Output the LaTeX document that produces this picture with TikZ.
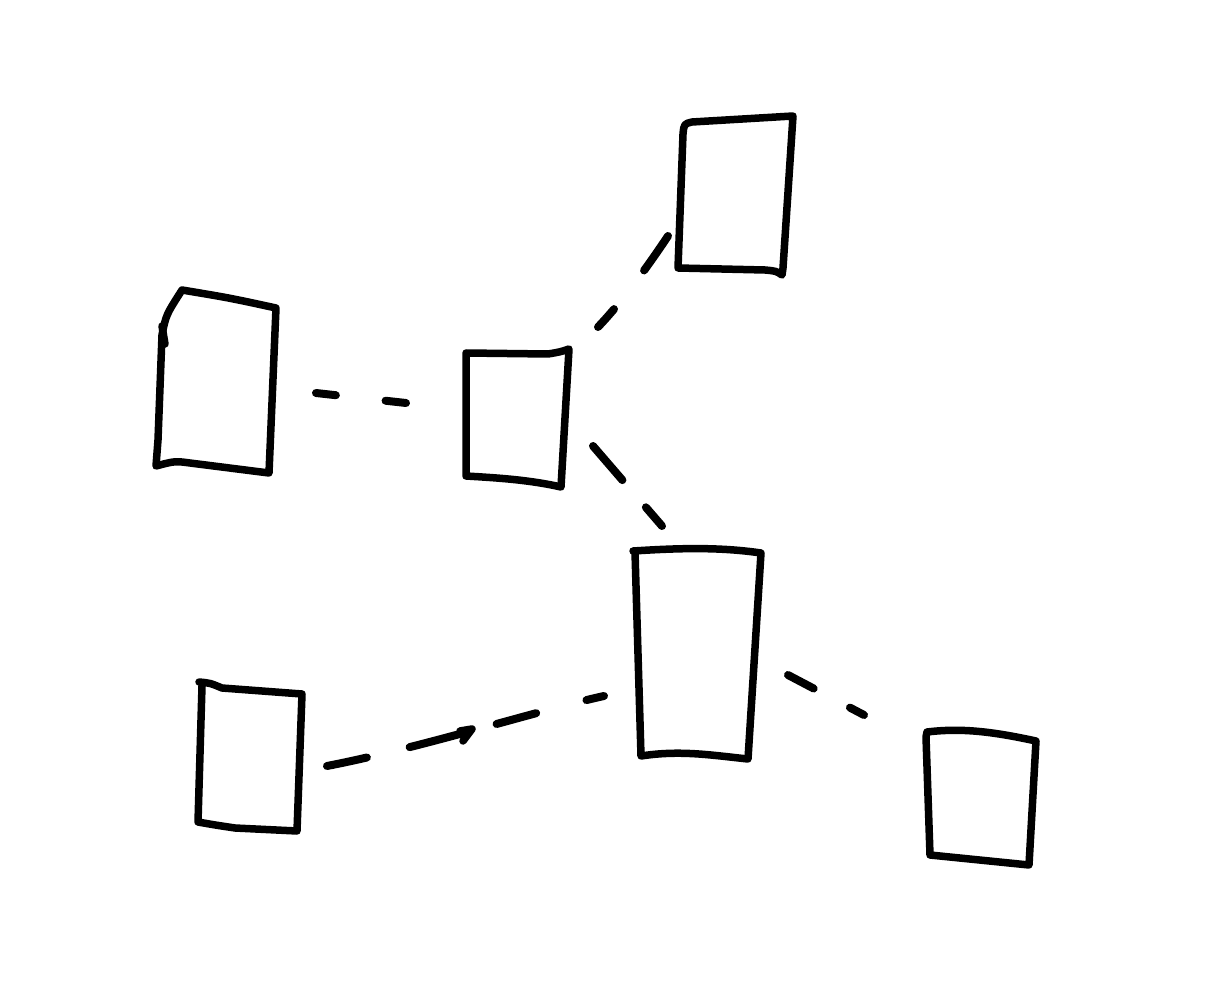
\documentclass[tikz,border=0pt]{standalone}
\begin{document}
\begin{tikzpicture}[x=1pt,y=-1pt,
  sketch/.style={line width=7.5pt,line join=round,line cap=round,black},
  link/.style={line width=8pt,line cap=round,black}]
\useasboundingbox[fill=white] (0,0) rectangle (1224,1008);
% box centres
\coordinate (bTR) at (736,195);
\coordinate (bL) at (215,380);
\coordinate (bC) at (516,418);
\coordinate (bB) at (696,654);
\coordinate (bBL) at (250,758);
\coordinate (bBR) at (982,798);
% top-right box
\draw[sketch] (683,134) .. controls (684,124) .. (692,122) -- (793,116) -- (783,268) -- (782,275) .. controls (776,271) .. (765,270) -- (678,268) -- (683,134);
% left box
\draw[sketch] (182,290) .. controls (230,298) .. (276,308) -- (269,473) -- (190,463) .. controls (175,461) .. (156,466) -- (158,440) -- (162,335) .. controls (166,315) .. (182,290) -- cycle;
\draw[sketch] (162,326) -- (165,344);
% centre box
\draw[sketch] (466,353) -- (548,354) .. controls (560,352) .. (569,349) -- (561,487) .. controls (530,480) and (500,478) .. (466,476) -- cycle;
% big box
\draw[sketch] (633,551) .. controls (680,548) and (720,547) .. (761,553) -- (748,759) .. controls (710,755) and (680,750) .. (641,756) -- (635,552);
% bottom-left box
\draw[sketch] (199,682) .. controls (210,683) .. (222,688) -- (302,694) -- (297,831) -- (235,828) .. controls (215,825) .. (198,822) -- (202,686);
% bottom-right box
\draw[sketch] (927,732) .. controls (960,728) and (990,731) .. (1036,741) -- (1029,865) -- (930,855) -- (926,737) -- cycle;
% connector endpoints
\coordinate (l1) at (316,393);  \coordinate (l2) at (406,403);
\coordinate (t1) at (598,327);  \coordinate (t2) at (668,236);
\coordinate (c1) at (593,446);  \coordinate (c2) at (662,526);
\coordinate (p1) at (604,696);  \coordinate (p2) at (327,766);
\coordinate (r1) at (788,675);  \coordinate (r2) at (864,715);
% connectors
\draw[link,dash pattern=on 20pt off 50pt on 30pt] (l1) -- (l2);
\draw[link,dash pattern=on 24pt off 49pt on 60pt] (t1) .. controls (622,302) and (648,266) .. (t2);
\draw[link,dash pattern=on 45pt off 36pt on 40pt] (c1) -- (c2);
\draw[link,dash pattern=on 18pt off 52pt on 41pt off 29pt on 61pt off 44pt on 60pt] (p1) .. controls (540,710) and (420,748) .. (p2);
\draw[link,dash pattern=on 29pt off 41pt on 30pt] (r1) -- (r2);
% small hand-drawn hook
\draw[sketch] (463,741) -- (472,729) -- (460,731);
\end{tikzpicture}
\end{document}
